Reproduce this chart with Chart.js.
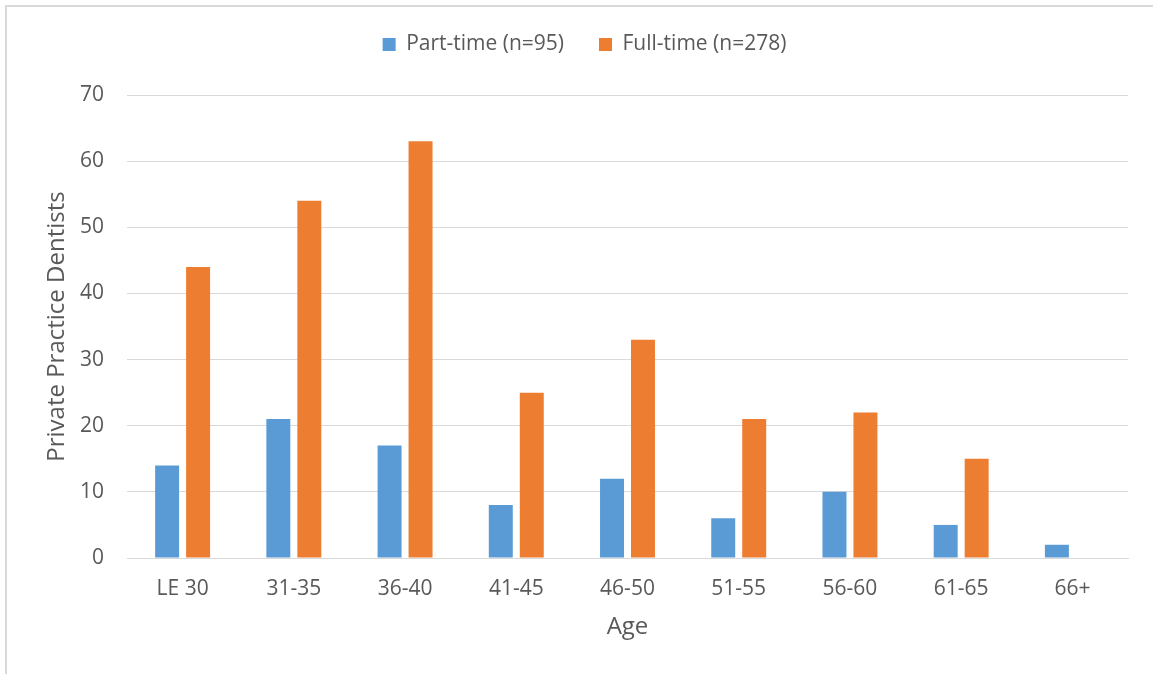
<!DOCTYPE html>
<html>
<head>
<meta charset="utf-8">
<script src="https://cdn.jsdelivr.net/npm/chart.js@4"></script>
<style>
  html, body { margin: 0; padding: 0; background: #fff; }
  .frame {
    position: absolute; left: 5px; top: 5px;
    width: 1146px; height: 667px;
    border-left: 2px solid #d9d9d9; border-top: 2px solid #d9d9d9;
  }
  canvas { display: block; }
</style>
</head>
<body>
<div class="frame"><canvas id="chart" width="1146" height="667"></canvas></div>
<script>
// ── DATA ──────────────────────────────────────────────
const ageGroups = ['LE 30', '31-35', '36-40', '41-45', '46-50', '51-55', '56-60', '61-65', '66+'];
const partTime  = [14, 21, 17, 8, 12, 6, 10, 5, 2];
const fullTime  = [44, 54, 63, 25, 33, 21, 22, 15, null];
const seriesLabels = ['Part-time (n=95)', 'Full-time (n=278)'];

const FONT = "'Open Sans', sans-serif";
const TEXT = '#595959';
const GRID = '#d9d9d9';

// fixed legend block height, then nudge it where the reference has it
const legendPlace = {
  id: 'legendPlace',
  beforeInit(chart) {
    const fit = chart.legend.fit;
    chart.legend.fit = function () {
      fit.call(this);
      this.height = 88;
    };
  },
  afterLayout(chart) {
    chart.legend.top = -8;
    chart.legend.left += 34;
  }
};

new Chart(document.getElementById('chart'), {
  type: 'bar',
  data: {
    labels: ageGroups,
    datasets: [
      { label: seriesLabels[0], data: partTime, backgroundColor: '#5B9BD5',
        categoryPercentage: 0.557, barPercentage: 0.774 },
      { label: seriesLabels[1], data: fullTime, backgroundColor: '#ED7D31',
        categoryPercentage: 0.557, barPercentage: 0.774 }
    ]
  },
  options: {
    responsive: false,
    animation: false,
    layout: { padding: { top: 0, right: 25, left: 0, bottom: 0 } },
    plugins: {
      legend: {
        position: 'top',
        labels: {
          boxWidth: 13, boxHeight: 13, padding: 35,
          color: TEXT, font: { family: FONT, size: 21 }
        }
      },
      tooltip: { enabled: false }
    },
    scales: {
      x: {
        grid: { display: false, drawTicks: false },
        border: { display: true, color: GRID, width: 1 },
        ticks: { color: TEXT, font: { family: FONT, size: 21 }, padding: 18 },
        title: { display: true, text: 'Age', color: TEXT,
                 font: { family: FONT, size: 24 }, padding: { top: 4, bottom: 32 } },
        afterFit(s) { s.height = 116; }
      },
      y: {
        min: 0, max: 70,
        ticks: { stepSize: 10, color: TEXT, font: { family: FONT, size: 21 }, padding: 23 },
        grid: { color: GRID, lineWidth: 1, drawTicks: false },
        border: { display: false },
        title: { display: true, text: 'Private Practice Dentists', color: TEXT,
                 font: { family: FONT, size: 24 }, padding: { top: 36, bottom: 4 } },
        afterFit(s) { s.width = 120; }
      }
    }
  },
  plugins: [legendPlace]
});
</script>
</body>
</html>
